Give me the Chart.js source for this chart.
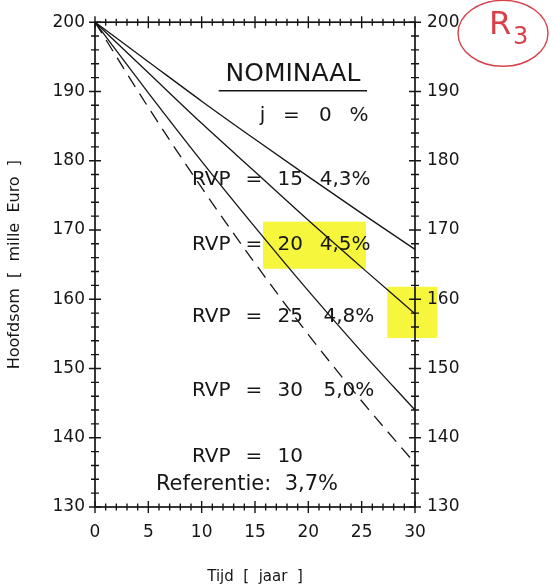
<!DOCTYPE html>
<html><head><meta charset="utf-8">
<script src="https://cdn.jsdelivr.net/npm/chart.js@4/dist/chart.umd.min.js"></script>
<style>html,body{margin:0;padding:0;background:#fff}</style>
</head><body>
<canvas id="c" width="554" height="587"></canvas>
<script>
// ---- data ----
const years     = [0, 5, 10, 15, 20, 25, 30];
const lineTop   = [200, 194.3, 188.6, 183.1, 177.7, 172.4, 167.2];
const lineMid   = [200, 192.7, 185.4, 178.4, 171.4, 164.6, 157.9];
const lineLow   = [200, 189.8, 179.9, 170.4, 161.2, 152.4, 144.0];
const lineRef   = [200, 187.7, 176.1, 165.2, 154.9, 145.3, 136.3];
const yTickLabels = [130, 140, 150, 160, 170, 180, 190, 200];
const xTickLabels = [0, 5, 10, 15, 20, 25, 30];

const FONT = '"DejaVu Sans", "Liberation Sans", sans-serif';
const INK = '#161616';

// text layout (data coordinates)
const notes = [
  {t:'NOMINAAL', x:18.56, y:192.4, size:25},
  {t:'j', x:15.7, y:186.5, size:20},
  {t:'=', x:18.4, y:186.5, size:20},
  {t:'0', x:21.6, y:186.5, size:20},
  {t:'%', x:24.75, y:186.5, size:20},
  {t:'RVP', x:10.9, y:177.2, size:20}, {t:'=', x:14.9, y:177.2, size:20}, {t:'15', x:18.3, y:177.2, size:20}, {t:'4,3%', x:23.45, y:177.2, size:20},
  {t:'RVP', x:10.9, y:167.9, size:20}, {t:'=', x:14.9, y:167.9, size:20}, {t:'20', x:18.3, y:167.9, size:20}, {t:'4,5%', x:23.45, y:167.9, size:20},
  {t:'RVP', x:10.9, y:157.5, size:20}, {t:'=', x:14.9, y:157.5, size:20}, {t:'25', x:18.3, y:157.5, size:20}, {t:'4,8%', x:23.8, y:157.5, size:20},
  {t:'RVP', x:10.9, y:146.8, size:20}, {t:'=', x:14.9, y:146.8, size:20}, {t:'30', x:18.3, y:146.8, size:20}, {t:'5,0%', x:23.8, y:146.8, size:20},
  {t:'RVP', x:10.9, y:137.2, size:20}, {t:'=', x:14.9, y:137.2, size:20}, {t:'10', x:18.3, y:137.2, size:20},
  {t:'Referentie:  3,7%', x:14.25, y:133.3, size:21}
];
const underline = {x0:11.6, x1:25.5, y:190.1};
const highlights = [
  {x0:15.75, x1:25.4, y0:171.2, y1:164.4},
  {x0:27.4, x1:32.1, y0:161.8, y1:154.4}
];
const stamp = {x:38.25, y:198.4, rx:45, ry:33};

const pts = arr => years.map((t, i) => ({x: t, y: arr[i]}));

const decor = {
  id: 'decor',
  beforeDraw(chart) {
    const {ctx, scales: {x, y}} = chart;
    ctx.save();
    ctx.fillStyle = '#fff';
    ctx.fillRect(0, 0, chart.width, chart.height);
    ctx.fillStyle = 'rgba(245,245,50,0.95)';
    highlights.forEach(h => {
      const px0 = x.getPixelForValue(h.x0), px1 = x.getPixelForValue(h.x1);
      const py0 = y.getPixelForValue(h.y0), py1 = y.getPixelForValue(h.y1);
      ctx.fillRect(px0, py0, px1 - px0, py1 - py0);
    });
    ctx.restore();
  },
  afterDraw(chart) {
    const {ctx, chartArea: a, scales: {x, y}} = chart;
    ctx.save();
    // frame
    ctx.strokeStyle = INK;
    ctx.lineWidth = 1.7;
    ctx.strokeRect(a.left, a.top, a.right - a.left, a.bottom - a.top);
    // crossing ticks
    ctx.lineWidth = 1.4;
    ctx.beginPath();
    for (let t = 0; t <= 30; t += 1) {
      const px = x.getPixelForValue(t);
      const L = (t % 5 === 0) ? 6 : 3.5;
      ctx.moveTo(px, a.bottom - L); ctx.lineTo(px, a.bottom + L);
      ctx.moveTo(px, a.top - L); ctx.lineTo(px, a.top + L);
    }
    for (let v = 130; v <= 200; v += 2) {
      const py = y.getPixelForValue(v);
      const L = (v % 10 === 0) ? 6 : 4;
      ctx.moveTo(a.left - L, py); ctx.lineTo(a.left + L, py);
      ctx.moveTo(a.right - L, py); ctx.lineTo(a.right + L, py);
    }
    ctx.stroke();
    // texts
    ctx.fillStyle = INK;
    ctx.textAlign = 'center';
    ctx.textBaseline = 'middle';
    notes.forEach(n => {
      ctx.font = n.size + 'px ' + FONT;
      ctx.fillText(n.t, x.getPixelForValue(n.x), y.getPixelForValue(n.y));
    });
    // underline
    ctx.lineWidth = 1.5;
    ctx.beginPath();
    ctx.moveTo(x.getPixelForValue(underline.x0), y.getPixelForValue(underline.y));
    ctx.lineTo(x.getPixelForValue(underline.x1), y.getPixelForValue(underline.y));
    ctx.stroke();
    // red stamp
    const cx = x.getPixelForValue(stamp.x), cy = y.getPixelForValue(stamp.y);
    ctx.strokeStyle = '#d8404a';
    ctx.lineWidth = 1.4;
    ctx.beginPath();
    ctx.ellipse(cx, cy, stamp.rx, stamp.ry, 0, 0, Math.PI * 2);
    ctx.stroke();
    ctx.fillStyle = '#d8404a';
    ctx.font = '32px ' + FONT;
    ctx.textAlign = 'left';
    ctx.fillText('R', cx - 14, cy - 8);
    ctx.font = '24px ' + FONT;
    ctx.fillText('3', cx + 10, cy + 4);
    ctx.restore();
  }
};

const common = {
  type: 'linear', min: 130, max: 200,
  grid: {display: false, drawTicks: false},
  border: {display: false}
};

new Chart(document.getElementById('c'), {
  type: 'line',
  data: {
    datasets: [
      {data: pts(lineTop), borderColor: INK, borderWidth: 1.3},
      {data: pts(lineMid), borderColor: INK, borderWidth: 1.3},
      {data: pts(lineLow), borderColor: INK, borderWidth: 1.3},
      {data: pts(lineRef), borderColor: INK, borderWidth: 1.3, borderDash: [13, 8]}
    ].map(d => Object.assign(d, {pointRadius: 0, fill: false, cubicInterpolationMode: 'monotone'}))
  },
  options: {
    responsive: false,
    devicePixelRatio: 1,
    animation: false,
    layout: {padding: {top: 19, left: 0, right: 0, bottom: 0}},
    plugins: {legend: {display: false}, tooltip: {enabled: false}},
    scales: {
      x: {
        type: 'linear', min: 0, max: 30, position: 'bottom',
        grid: {display: false, drawTicks: false}, border: {display: false},
        afterBuildTicks: s => { s.ticks = xTickLabels.map(v => ({value: v})); },
        ticks: {color: INK, padding: 15, font: {family: FONT, size: 17}, maxRotation: 0},
        title: {display: true, text: 'Tijd  [  jaar  ]', color: INK, font: {family: FONT, size: 15}, padding: {top: 0, bottom: 1}},
        afterFit: s => { s.height = 80; }
      },
      y: Object.assign({}, common, {
        position: 'left',
        afterBuildTicks: s => { s.ticks = yTickLabels.map(v => ({value: v})); },
        ticks: {color: INK, padding: 10, font: {family: FONT, size: 17}},
        title: {display: true, text: 'Hoofdsom  [  mille  Euro  ]', color: INK, font: {family: FONT, size: 16}, padding: {top: 5, bottom: 0}},
        afterFit: s => { s.width = 95; }
      }),
      y2: Object.assign({}, common, {
        position: 'right',
        afterBuildTicks: s => { s.ticks = yTickLabels.map(v => ({value: v})); },
        ticks: {color: INK, padding: 12, font: {family: FONT, size: 17}},
        afterFit: s => { s.width = 139; }
      })
    }
  },
  plugins: [decor]
});
</script>
</body></html>
